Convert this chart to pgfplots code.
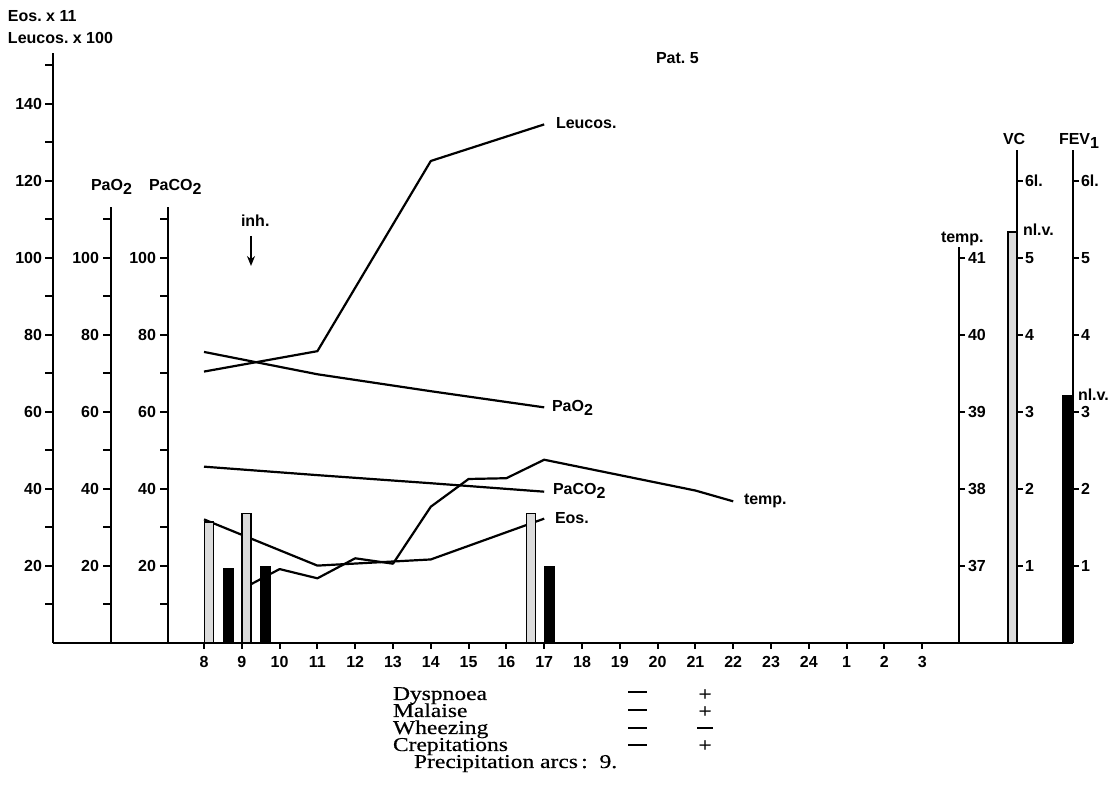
\documentclass[border=0pt]{standalone}
\usepackage{pgfplots}
\pgfplotsset{compat=1.18}
\usetikzlibrary{arrows.meta}
\usepackage{fontspec}
\setmainfont{Liberation Sans}
\newfontfamily\serifw[FakeStretch=1.2,FakeBold=0.5]{Liberation Serif}
\newcommand\lf{\fontsize{8}{9.6}\selectfont\bfseries}
\newcommand\sub[1]{\raisebox{-0.45ex}{#1}}
\begin{document}
\begin{tikzpicture}
\begin{axis}[
  scale only axis, width=558pt, height=396.5pt,
  xmin=2.60317, xmax=32.12698, ymin=-38.961, ymax=167.013,
  hide axis, clip=false]
% Leucos (x100)
\addplot[line width=1.1pt, line join=round] table[x=h,y=v] {
h v
8 70.5
11 75.8
14 125.2
17 134.7
};
% PaO2
\addplot[line width=1.1pt, line join=round] table[x=h,y=v] {
h v
8 75.6
11 69.8
14 65.4
17 61.2
};
% PaCO2
\addplot[line width=1.1pt, line join=round] table[x=h,y=v] {
h v
8 45.8
11 43.6
14 41.5
17 39.3
};
% Eos (x11)
\addplot[line width=1.1pt, line join=round] table[x=h,y=v] {
h v
8 32.1
11 20.1
14 21.7
17 32.3
};
% temperature (deg C)
\addplot[line width=1.1pt, line join=round] table[x=h,y expr=(\thisrow{t}-36)*20] {
h t
9 36.70
10 36.96
11 36.84
12 37.10
13 37.03
14 37.77
15 38.13
16 38.14
17 38.38
21 37.98
22 37.84
};
% VC bars (litres)
\addplot[ybar, bar width=4.5pt, bar shift=0pt, fill=black!14, draw=black, line width=0.8pt] table[x=h,y expr=\thisrow{l}*20] {
h l
8.13 1.57
9.13 1.68
16.65 1.68
29.39 5.34
};
% FEV1 bars (litres)
\addplot[ybar, bar width=5pt, bar shift=0pt, fill=black, draw=black, line width=0.5pt] table[x=h,y expr=\thisrow{l}*20] {
h l
8.64 0.97
9.64 0.99
17.13 0.99
30.84 3.21
};
\end{axis}
\begin{scope}[shift={(current axis.north west)}, x=0.5pt, y=-0.5pt, line width=1pt,
  every node/.style={inner sep=0pt, font=\lf}]
\path (0,0) rectangle (1116,793);
% baseline and hour ticks
\draw (53,643)--(1073,643);
\foreach \h/\l in {8/8,9/9,10/10,11/11,12/12,13/13,14/14,15/15,16/16,17/17,18/18,19/19,20/20,21/21,22/22,23/23,24/24,25/1,26/2,27/3}{
  \draw ({204+(\h-8)*37.8},643)--++(0,6);
  \node[anchor=base] at ({204+(\h-8)*37.8},668) {\l};
}
% left scale
\draw (53,643)--(53,53);
\foreach \v in {10,20,...,150} \draw (53,{643-3.85*\v})--++(-8,0);
\foreach \v in {20,40,...,140} \node[anchor=east] at (43,{643-3.85*\v}) {\v};
% PaO2 scale
\draw (111,643)--(111,207);
\foreach \v in {10,20,...,110} \draw (111,{643-3.85*\v})--++(-8,0);
\foreach \v in {20,40,...,100} \node[anchor=east] at (100,{643-3.85*\v}) {\v};
% PaCO2 scale
\draw (168,643)--(168,207);
\foreach \v in {10,20,...,110} \draw (168,{643-3.85*\v})--++(-8,0);
\foreach \v in {20,40,...,100} \node[anchor=east] at (157,{643-3.85*\v}) {\v};
% temp scale
\draw (959,643)--(959,247);
\foreach \t in {37,38,39,40,41}{
  \draw (959,{643-77*(\t-36)})--++(6,0);
  \node[anchor=west] at (967,{643-77*(\t-36)}) {\t};
}
% VC scale
\draw (1017,643)--(1017,150);
\foreach \l in {1,2,3,4,5}{
  \draw (1017,{643-77*\l})--++(6,0);
  \node[anchor=west] at (1024,{643-77*\l}) {\l};
}
\draw (1017,181)--++(6,0); \node[anchor=west] at (1024,181) {6l.};
% FEV1 scale
\draw (1073,643)--(1073,150);
\foreach \l in {1,2,3,4,5}{
  \draw (1073,{643-77*\l})--++(6,0);
  \node[anchor=west] at (1080,{643-77*\l}) {\l};
}
\draw (1073,181)--++(6,0); \node[anchor=west] at (1080,181) {6l.};
% titles and labels
\node[anchor=base west] at (7,22) {Eos.\ x 11};
\node[anchor=base west] at (7,44) {Leucos.\ x 100};
\node[anchor=base west] at (90,191) {PaO\sub{2}};
\node[anchor=base west] at (148,191) {PaCO\sub{2}};
\node[anchor=base west] at (655,64) {Pat.\ 5};
\node[anchor=base west] at (240,227) {inh.};
\draw[line width=0.8pt, -{Stealth[length=5pt,width=4pt]}] (251,236)--(251,266);
\node[anchor=base west] at (555,129) {Leucos.};
\node[anchor=base west] at (551,412) {PaO\sub{2}};
\node[anchor=base west] at (552,495) {PaCO\sub{2}};
\node[anchor=base west] at (554,524) {Eos.};
\node[anchor=base west] at (743,505) {temp.};
\node[anchor=base west] at (940,243) {temp.};
\node[anchor=base west] at (1002,145) {VC};
\node[anchor=base west] at (1058,145) {FEV\sub{1}};
\node[anchor=base west] at (1022,236) {nl.v.};
\node[anchor=base west] at (1077,401) {nl.v.};
% symptom table
\begin{scope}[every node/.style={inner sep=0pt, font=\serifw\fontsize{9.8}{10}\selectfont}]
\node[anchor=base west] at (392,700) {Dyspnoea};
\node[anchor=base west] at (392,717) {Malaise};
\node[anchor=base west] at (392,734) {Wheezing};
\node[anchor=base west] at (392,751) {Crepitations};
\node[anchor=base west] at (413,768) {Precipitation arcs\,:\ \ 9.};
\foreach \y in {692,710,728,745} \draw[line width=0.9pt] (628,\y)--(647,\y);
\draw[line width=0.9pt] (697,728)--(713,728);
\foreach \y in {695,712,746} \node at (705,\y) {+};
\end{scope}
\end{scope}
\end{tikzpicture}
\end{document}
